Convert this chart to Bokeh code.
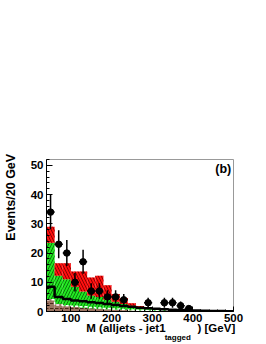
import numpy as np
from bokeh.plotting import figure
from bokeh.models import Label, FixedTicker, Range1d, LinearAxis
from bokeh.embed import file_html
from bokeh.resources import INLINE

# ---- data ----
bin_lo = 40
bin_width = 20
n_bins = 23  # 40 .. 500 GeV
# stacked background components (cumulative tops)
brown_top = [4.3, 2.6, 2.0, 1.6, 1.3, 1.1, 0.9, 0.75, 0.6, 0.5, 0.4, 0.35, 0.3, 0.25,
             0.2, 0.17, 0.14, 0.12, 0.1, 0.08, 0.06, 0.05, 0.04]
green_top = [23.5, 12.2, 11.0, 8.5, 6.8, 5.5, 5.0, 4.0, 3.3, 2.6, 2.0, 1.5, 1.2, 0.95,
             0.75, 0.6, 0.5, 0.4, 0.3, 0.25, 0.2, 0.15, 0.1]
red_top = [29.0, 16.5, 16.5, 13.7, 13.7, 11.6, 12.2, 9.0, 6.0, 4.6, 2.8, 1.9, 1.5, 1.15,
           0.9, 0.7, 0.55, 0.45, 0.35, 0.28, 0.22, 0.17, 0.12]
# overlaid outline histograms
black_line = [8.5, 5.0, 4.3, 3.8, 3.5, 3.2, 2.9, 2.6, 2.2, 1.9, 1.6, 1.3, 1.1, 0.9,
              0.75, 0.6, 0.5, 0.4, 0.3, 0.25, 0.2, 0.15, 0.1]
white_dash = [4.0, 2.2, 2.0, 1.8, 1.6, 1.4, 1.2, 1.0, 0.85, 0.7, 0.55, 0.45, 0.35, 0.3,
              0.25, 0.2, 0.15, 0.12, 0.1, 0.08, 0.06, 0.05, 0.04]
# observed data counts per bin
data_counts = [34, 23, 20, 10, 17, 7, 7, 5, 5, 4, 0, 0, 3, 0, 3, 3, 2, 1, 0, 0, 0, 0, 0]
x_ticks = [100, 200, 300, 400, 500]
y_ticks = [0, 10, 20, 30, 40, 50]

edges = bin_lo + bin_width * np.arange(n_bins + 1)
left = edges[:-1]
right = edges[1:]
centers = 0.5 * (left + right)
brown = np.array(brown_top)
green = np.array(green_top)
red = np.array(red_top)

FONT = "Liberation Sans"
NB = "\u00a0"

p = figure(width=266, height=344, output_backend="svg", toolbar_location=None,
           x_range=Range1d(40, 500), y_range=Range1d(0, 52),
           min_border_left=34, min_border_right=33, min_border_top=159,
           min_border_bottom=32)
p.background_fill_color = "white"
p.border_fill_color = "white"
p.outline_line_color = "#999999"
p.outline_line_width = 1
p.xgrid.visible = False
p.ygrid.visible = False

# stacked histograms
p.quad(left=left, right=right, bottom=0, top=brown, fill_color="#9c7462",
       line_color=None, hatch_pattern="horizontal_dash", hatch_color="#4a2a1a",
       hatch_scale=5, hatch_weight=1)
p.quad(left=left, right=right, bottom=brown, top=green, fill_color="#22e622",
       line_color=None, hatch_pattern="right_diagonal_line", hatch_color="#0a7a0a",
       hatch_scale=6, hatch_weight=1)
p.quad(left=left, right=right, bottom=green, top=red, fill_color="#ff1010",
       line_color=None, hatch_pattern="left_diagonal_line", hatch_color="#8a0000",
       hatch_scale=6, hatch_weight=1)

# overlay outlines
p.step(x=edges, y=np.append(white_dash, white_dash[-1]), mode="after",
       line_color="white", line_width=1.5, line_dash="3 2")
p.step(x=edges, y=np.append(black_line, black_line[-1]), mode="after",
       line_color="black", line_width=2.5)

# data points
cnt = np.array(data_counts, dtype=float)
m = cnt > 0
dx = centers[m]
dy = cnt[m]
err = np.sqrt(dy)
p.segment(x0=dx, y0=dy - err, x1=dx, y1=dy + err, line_color="black", line_width=1.5)
p.segment(x0=dx - bin_width / 2, y0=dy, x1=dx + bin_width / 2, y1=dy,
          line_color="black", line_width=1.5)
p.scatter(x=dx, y=dy, size=6.5, marker="circle", fill_color="black", line_color="black")

# axes
p.xaxis.ticker = FixedTicker(ticks=x_ticks, minor_ticks=list(range(40, 501, 20)))
p.yaxis.ticker = FixedTicker(ticks=y_ticks, minor_ticks=list(range(0, 53, 2)))
for ax in (p.xaxis[0], p.yaxis[0]):
    ax.axis_line_color = "black"
    ax.axis_line_width = 1
    ax.major_tick_out = 0
    ax.minor_tick_out = 0
    ax.major_tick_line_color = "black"
    ax.minor_tick_line_color = "black"
    ax.major_label_text_font = FONT
    ax.major_label_text_font_style = "bold"
    ax.major_label_text_font_size = "11.5px"
    ax.major_label_text_color = "black"
    ax.axis_label_text_font = FONT
    ax.axis_label_text_font_style = "bold"
    ax.axis_label_text_color = "black"
p.xaxis.major_tick_in = 5
p.xaxis.minor_tick_in = 2
p.yaxis.major_tick_in = 6
p.yaxis.minor_tick_in = 3
p.xaxis.major_label_standoff = 2
p.yaxis.major_label_standoff = 3

# x title (main part, with a gap for the subscript); centred, padded on the left
p.xaxis.axis_label = NB * 13 + "M (alljets - jet1" + NB * 10 + ") [GeV]"
p.xaxis.axis_label_text_font_size = "11.5px"
p.xaxis.axis_label_standoff = -3
# y title, padded at its start so it sits towards the top
p.yaxis.axis_label = NB * 22 + "Events/20 GeV"
p.yaxis.axis_label_text_font_size = "12.5px"
p.yaxis.axis_label_standoff = 10

# subscript on an extra, tick-less axis
sub_ax = LinearAxis(ticker=FixedTicker(ticks=[]), axis_line_color=None,
                    major_tick_out=0, minor_tick_out=0, major_tick_in=0, minor_tick_in=0,
                    major_label_text_font_size="0px",
                    axis_label=NB * 34 + "tagged",
                    axis_label_text_font=FONT, axis_label_text_font_style="bold",
                    axis_label_text_font_size="8px", axis_label_text_color="black",
                    axis_label_standoff=-4)
p.add_layout(sub_ax, "below")

# panel label
p.add_layout(Label(x=494.5, y=48.7, text="(b)", text_align="right",
                   text_baseline="middle", text_font=FONT, text_font_style="bold",
                   text_font_size="12.5px", text_color="black"))

open("out.html", "w").write(file_html(p, INLINE))
